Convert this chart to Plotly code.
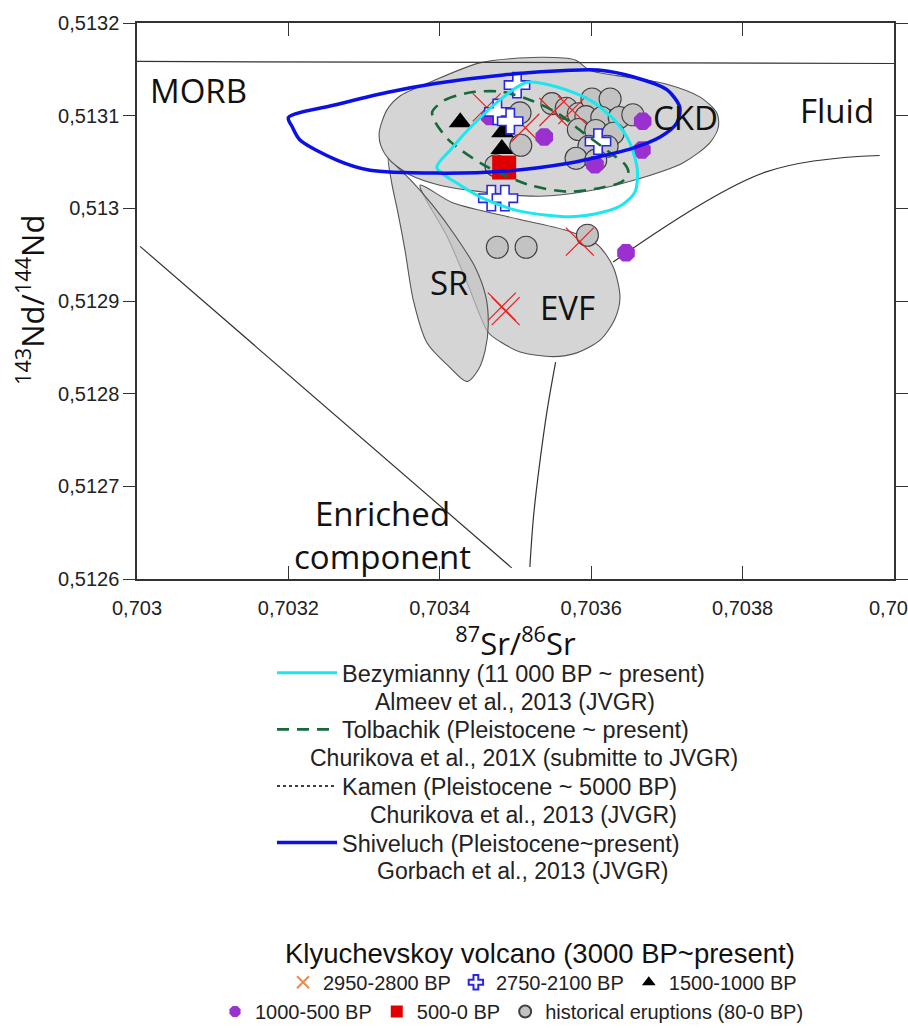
import plotly.graph_objects as go

# ---- axis ranges and ticks ----------------------------------------------
SR_RANGE = [0.703, 0.704]
ND_RANGE = [0.5126, 0.5132]
SR_TICKS = [0.703, 0.7032, 0.7034, 0.7036, 0.7038, 0.704]
ND_TICKS = [0.5126, 0.5127, 0.5128, 0.5129, 0.513, 0.5131, 0.5132]

# ---- reference fields (87Sr/86Sr, 143Nd/144Nd) --------------------------
ckd_sr = [0.70332, 0.70333, 0.703347, 0.703387, 0.703453, 0.703532, 0.703579, 0.703598,
          0.703651, 0.7037, 0.703744, 0.703766, 0.703768, 0.703757, 0.703721, 0.703655,
          0.703598, 0.703532, 0.703453, 0.7034, 0.703361, 0.703334, 0.703322, 0.70332]
ckd_nd = [0.513082, 0.513106, 0.513121, 0.513136, 0.513157, 0.513163, 0.51316, 0.513149,
          0.513141, 0.513134, 0.51312, 0.513103, 0.513088, 0.513071, 0.513049, 0.51303,
          0.513019, 0.513013, 0.513018, 0.513025, 0.513036, 0.513052, 0.513068, 0.513082]

evf_sr = [0.703374, 0.703417, 0.703506, 0.703572, 0.703608, 0.703629, 0.703638, 0.703631,
          0.703612, 0.703581, 0.70355, 0.703506, 0.70348, 0.703464, 0.703436, 0.70341, 0.703374]
evf_nd = [0.513025, 0.513006, 0.512988, 0.512975, 0.512961, 0.512937, 0.512904, 0.51288,
          0.512858, 0.512844, 0.51284, 0.512845, 0.512856, 0.512866, 0.51292, 0.512969, 0.513025]

sr_sr = [0.703436, 0.703451, 0.70346, 0.703464, 0.703461, 0.703447, 0.70342, 0.70339,
         0.703361, 0.703337, 0.703332, 0.703337, 0.703344, 0.703354, 0.703365, 0.703383,
         0.70341, 0.703436]
sr_nd = [0.512813, 0.512826, 0.512847, 0.512874, 0.512904, 0.512936, 0.512971, 0.513004,
         0.513031, 0.51305, 0.513054, 0.513025, 0.512998, 0.512955, 0.512901, 0.512855,
         0.512831, 0.512813]

# ---- end-member lines ---------------------------------------------------
morb_sr = [0.703, 0.704]
morb_nd = [0.5131585, 0.5131563]
enriched_sr = [0.703004, 0.703495]
enriched_nd = [0.512959, 0.512612]
fluid_up_sr = [0.703629, 0.70383, 0.703981]
fluid_up_nd = [0.512942, 0.513039, 0.513057]
fluid_low_sr = [0.703553, 0.703542, 0.703532, 0.703524, 0.703519]
fluid_low_nd = [0.512834, 0.512783, 0.512725, 0.512669, 0.512613]

# ---- neighbouring volcanoes (outlines) ----------------------------------
bez_sr = [0.703396, 0.703414, 0.70344, 0.703484, 0.703515, 0.703555, 0.703598, 0.703631,
          0.703651, 0.703661, 0.703658, 0.703641, 0.703616, 0.703572, 0.703506, 0.703462,
          0.703427, 0.703396]
bez_nd = [0.513044, 0.513063, 0.513087, 0.51312, 0.513136, 0.513131, 0.513117, 0.513095,
          0.513071, 0.513041, 0.513018, 0.513004, 0.512996, 0.512991, 0.512997, 0.513009,
          0.513025, 0.513044]

tol_sr = [0.70339, 0.703407, 0.70344, 0.70348, 0.703519, 0.703555, 0.703589, 0.703625,
          0.703645, 0.703649, 0.703641, 0.703612, 0.703568, 0.703519, 0.703462, 0.703414,
          0.703394, 0.70339]
tol_nd = [0.513104, 0.513117, 0.513125, 0.513126, 0.513117, 0.513103, 0.513082, 0.51306,
          0.513047, 0.513039, 0.513029, 0.513022, 0.513018, 0.513025, 0.513045, 0.513072,
          0.513093, 0.513104]

shv_sr = [0.7032, 0.703264, 0.70333, 0.703396, 0.703484, 0.703572, 0.703612, 0.703655,
          0.7037, 0.703717, 0.703713, 0.703691, 0.703655, 0.703612, 0.703572, 0.703484,
          0.703396, 0.703308, 0.703264, 0.703215, 0.703205, 0.7032]
shv_nd = [0.513098, 0.513112, 0.513125, 0.513135, 0.513144, 0.513149, 0.513149, 0.513142,
          0.513128, 0.513109, 0.513092, 0.513077, 0.513065, 0.513056, 0.513049, 0.51304,
          0.513038, 0.513041, 0.513052, 0.513074, 0.513088, 0.513098]

# ---- Klyuchevskoy samples ------------------------------------------------
bp2950_sr = [0.703462, 0.703513, 0.70355, 0.703575, 0.703585, 0.703482, 0.703487]
bp2950_nd = [0.513109, 0.513087, 0.513104, 0.513106, 0.512964, 0.512894, 0.512889]

bp2750_sr = [0.703502, 0.703476, 0.703493, 0.703609, 0.703468, 0.703486]
bp2750_nd = [0.513133, 0.513104, 0.513094, 0.513072, 0.513011, 0.513011]

bp1500_sr = [0.703427, 0.703483, 0.703482]
bp1500_nd = [0.513093, 0.513082, 0.513064]

bp1000_sr = [0.703466, 0.703538, 0.703668, 0.703667, 0.703605, 0.703646]
bp1000_nd = [0.513099, 0.513077, 0.513094, 0.513063, 0.513047, 0.512952]

bp500_sr = [0.703485]
bp500_nd = [0.513044]

hist_sr = [0.703506, 0.703507, 0.703474, 0.703548, 0.703567, 0.703583, 0.703601, 0.703625,
           0.703593, 0.703614, 0.703637, 0.703655, 0.703583, 0.703606, 0.703629, 0.703597,
           0.703621, 0.70358, 0.703606, 0.703476, 0.703514, 0.703595]
hist_nd = [0.513103, 0.513068, 0.513046, 0.513113, 0.513108, 0.513102, 0.513118, 0.513118,
           0.513099, 0.513098, 0.513098, 0.513101, 0.513085, 0.513084, 0.513081, 0.513067,
           0.513067, 0.513054, 0.513052, 0.512958, 0.512958, 0.512971]

# ---- labels ---------------------------------------------------------------
field_labels = ["MORB", "CKD", "Fluid", "SR", "EVF", "Enriched<br>component"]
field_label_sr = [0.703015, 0.703724, 0.703925, 0.703412, 0.703569, 0.703324]
field_label_nd = [0.5131277, 0.5130975, 0.5131051, 0.5129195, 0.5128934, 0.5126477]
field_label_anchor = ["left", "center", "center", "center", "center", "center"]

x_title = "<sup>87</sup>Sr/<sup>86</sup>Sr"
y_title = "<sup>143</sup>Nd/<sup>144</sup>Nd"

line_names = ["Bezymianny (11 000 BP ~ present)", "Tolbachik (Pleistocene ~ present)",
              "Kamen (Pleistocene ~ 5000 BP)", "Shiveluch (Pleistocene~present)"]
citations = ["Almeev et al., 2013 (JVGR)", "Churikova et al., 201X (submitte to JVGR)",
             "Churikova et al., 2013 (JVGR)", "Gorbach et al., 2013 (JVGR)"]
group_names = ["2950-2800 BP", "2750-2100 BP", "1500-1000 BP",
               "1000-500 BP", "500-0 BP", "historical eruptions (80-0 BP)"]
group_title = "Klyuchevskoy volcano (3000 BP~present)"

LABEL_FONT = "Open Sans"
TEXT_FONT = "Liberation Sans, Arial"
FIELD_FILL = "#d5d5d5"
FIELD_EDGE = "#555555"

# plot frame in pixels, used to place text outside the axes
FRAME_L, FRAME_R, FRAME_T, FRAME_B = 137, 894, 23, 579
FRAME_W, FRAME_H = FRAME_R - FRAME_L, FRAME_B - FRAME_T

fig = go.Figure()


def outline(xs, ys, **kw):
    fig.add_trace(go.Scatter(x=xs, y=ys, mode="lines", hoverinfo="skip",
                             showlegend=False, **kw))


# gray fields
outline(evf_sr, evf_nd, fill="toself", fillcolor=FIELD_FILL,
        line=dict(color=FIELD_EDGE, width=1.1, shape="spline", smoothing=0.8))
outline(sr_sr, sr_nd, fill="toself", fillcolor="rgba(195,195,195,0.7)",
        line=dict(color=FIELD_EDGE, width=1.1, shape="spline", smoothing=0.8))
outline(ckd_sr, ckd_nd, fill="toself", fillcolor=FIELD_FILL,
        line=dict(color=FIELD_EDGE, width=1.1, shape="spline", smoothing=0.8))

# end-member lines
for xs, ys, shp in [(morb_sr, morb_nd, "linear"), (enriched_sr, enriched_nd, "linear"),
                    (fluid_up_sr, fluid_up_nd, "spline"), (fluid_low_sr, fluid_low_nd, "spline")]:
    outline(xs, ys, line=dict(color="#333333", width=1.2, shape=shp))

# Klyuchevskoy samples
fig.add_trace(go.Scatter(x=hist_sr, y=hist_nd, mode="markers", name=group_names[5],
                         legend="legend3", legendrank=3,
                         marker=dict(symbol="circle", size=22, color="#c3c3c3",
                                     line=dict(color="#404040", width=1.1))))
fig.add_trace(go.Scatter(x=bp2950_sr, y=bp2950_nd, mode="markers", showlegend=False,
                         marker=dict(symbol="x-thin", size=28,
                                     line=dict(color="#e52222", width=1.2))))
fig.add_trace(go.Scatter(x=bp1000_sr, y=bp1000_nd, mode="markers", name=group_names[3],
                         legend="legend3", legendrank=1,
                         marker=dict(symbol="octagon", size=19, color="#9b30d0",
                                     line=dict(width=0))))
fig.add_trace(go.Scatter(x=bp1500_sr, y=bp1500_nd, mode="markers", name=group_names[2],
                         legend="legend2", legendrank=3,
                         marker=dict(symbol="triangle-up", size=20, color="black",
                                     line=dict(width=0))))
fig.add_trace(go.Scatter(x=bp500_sr, y=bp500_nd, mode="markers", name=group_names[4],
                         legend="legend3", legendrank=2,
                         marker=dict(symbol="square", size=24, color="#e00000",
                                     line=dict(width=0))))
fig.add_trace(go.Scatter(x=bp2750_sr, y=bp2750_nd, mode="markers", name=group_names[1],
                         legend="legend2", legendrank=2,
                         marker=dict(symbol="cross", size=21, color="white",
                                     line=dict(color="#2828e0", width=1.6))))
# legend entry for the oldest group
fig.add_trace(go.Scatter(x=[None], y=[None], mode="markers", name=group_names[0],
                         legend="legend2", legendrank=1,
                         marker=dict(symbol="x-thin", size=12,
                                     line=dict(color="#ef8a4a", width=1.5))))

# neighbouring volcano outlines
fig.add_trace(go.Scatter(x=tol_sr, y=tol_nd, mode="lines", name=line_names[1],
                         legendgroup="tol", legendrank=2, hoverinfo="skip",
                         line=dict(color="#16693a", width=2.6, dash="12px,8px",
                                   shape="spline", smoothing=0.8)))
fig.add_trace(go.Scatter(x=bez_sr, y=bez_nd, mode="lines", name=line_names[0],
                         legendgroup="bez", legendrank=1, hoverinfo="skip",
                         line=dict(color="#19e8f0", width=3, shape="spline", smoothing=0.8)))
fig.add_trace(go.Scatter(x=[None], y=[None], mode="lines", name=line_names[2],
                         legendgroup="kam", legendrank=3,
                         line=dict(color="black", width=1.5, dash="dot")))
fig.add_trace(go.Scatter(x=shv_sr, y=shv_nd, mode="lines", name=line_names[3],
                         legendgroup="shv", legendrank=4, hoverinfo="skip",
                         line=dict(color="#0a10e6", width=3.5, shape="spline", smoothing=0.8)))

# field labels
for txt, xs, ys, anc in zip(field_labels, field_label_sr, field_label_nd, field_label_anchor):
    fig.add_annotation(x=xs, y=ys, text=txt, showarrow=False, xanchor=anc, yanchor="middle",
                       font=dict(family=LABEL_FONT, size=33, color="#111"))

# vertical axis title
fig.add_annotation(x=(30 - FRAME_L) / FRAME_W, y=(FRAME_B - 300) / FRAME_H,
                   xref="paper", yref="paper", text=y_title, textangle=-90,
                   showarrow=False, xanchor="center", yanchor="middle",
                   font=dict(family=LABEL_FONT, size=31, color="#111"))

# citations under the outline legend entries
cit_x = [515, 524, 523, 522]
cit_y = [702, 758, 815, 871]
for txt, cx, cy in zip(citations, cit_x, cit_y):
    fig.add_annotation(x=(cx - FRAME_L) / FRAME_W, y=(FRAME_B - cy) / FRAME_H,
                       xref="paper", yref="paper",
                       text=txt, showarrow=False, xanchor="center", yanchor="middle",
                       font=dict(family=TEXT_FONT, size=23, color="#222"))

axis_common = dict(showgrid=False, zeroline=False)
fig.update_layout(
    width=908, height=1028,
    margin=dict(l=FRAME_L, r=908 - FRAME_R, t=FRAME_T, b=1028 - FRAME_B, autoexpand=False),
    plot_bgcolor="white", paper_bgcolor="white",
    separators=", ",
    font=dict(family=TEXT_FONT, color="#222"),
    xaxis=dict(range=SR_RANGE, tickmode="array", tickvals=SR_TICKS, ticks="inside",
               ticklen=13, tickcolor="#333", tickwidth=1.3, showline=True, linecolor="#333",
               linewidth=1.5, mirror="ticks", tickfont=dict(size=20, color="#222"),
               ticklabelstandoff=10, tickangle=0, ticklabeloverflow="allow",
               title=dict(text=x_title, standoff=8,
                          font=dict(family=LABEL_FONT, size=31, color="#111")),
               **axis_common),
    xaxis2=dict(range=SR_RANGE, tickmode="array", tickvals=SR_TICKS, overlaying="x",
                side="top", ticks="outside", ticklen=13, tickcolor="#333", tickwidth=1.3,
                showticklabels=False, showline=False, **axis_common),
    yaxis=dict(range=ND_RANGE, tickmode="array", tickvals=ND_TICKS, ticks="outside",
               ticklen=12, tickcolor="#333", tickwidth=1.3, showline=True, linecolor="#333",
               linewidth=1.5, mirror="ticks", tickfont=dict(size=20, color="#222"),
               ticklabeloverflow="allow", **axis_common),
    yaxis2=dict(range=ND_RANGE, tickmode="array", tickvals=ND_TICKS, overlaying="y",
                side="right", ticks="inside", ticklen=12, tickcolor="#333", tickwidth=1.3,
                mirror="ticks", showticklabels=False, showline=False, **axis_common),
    legend=dict(xref="container", yref="container", x=272 / 908, y=1 - 651 / 1028,
                xanchor="left", yanchor="top", orientation="v", itemwidth=60,
                tracegroupgap=23, bgcolor="rgba(0,0,0,0)",
                font=dict(family=TEXT_FONT, size=23.5, color="#222")),
    legend2=dict(xref="container", yref="container", x=283 / 908, y=1 - 927 / 1028,
                 xanchor="left", yanchor="top", orientation="h", itemsizing="constant",
                 bgcolor="rgba(0,0,0,0)",
                 title=dict(text=group_title, side="top",
                            font=dict(family=TEXT_FONT, size=27.5, color="#111")),
                 font=dict(family=TEXT_FONT, size=20, color="#222")),
    legend3=dict(xref="container", yref="container", x=215 / 908, y=1 - 992 / 1028,
                 xanchor="left", yanchor="top", orientation="h", itemsizing="constant",
                 bgcolor="rgba(0,0,0,0)",
                 font=dict(family=TEXT_FONT, size=20, color="#222")),
)

fig.write_html("out.html")
